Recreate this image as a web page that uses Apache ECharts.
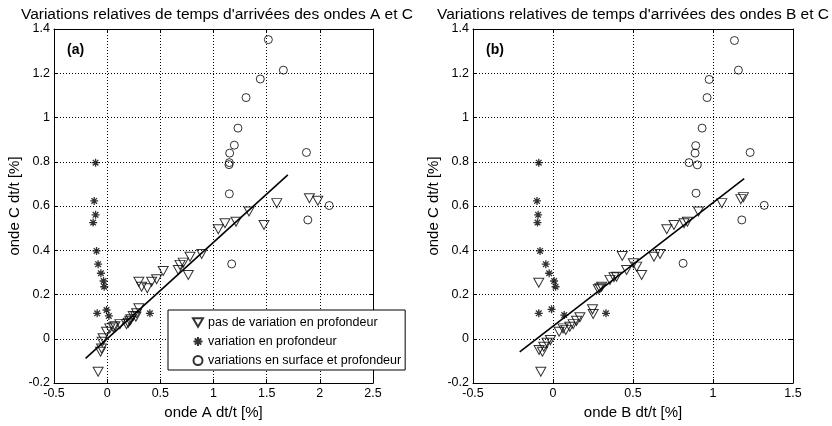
<!DOCTYPE html>
<html>
<head>
<meta charset="utf-8">
<script src="https://cdn.jsdelivr.net/npm/echarts@6/dist/echarts.min.js"></script>
<style>html,body{margin:0;padding:0;background:#fff}#c{width:832px;height:426px}</style>
</head>
<body>
<div id="c"></div>
<script>
// ---- Data ----
var titleA = "Variations relatives de temps d'arrivées des ondes A et C";
var titleB = "Variations relatives de temps d'arrivées des ondes B et C";
var xNameA = "onde A dt/t [%]";
var xNameB = "onde B dt/t [%]";
var yName = "onde C dt/t [%]";
var legendNames = ["pas de variation en profondeur", "variation en profondeur", "variations en surface et profondeur"];

// Panel (a): x = onde A, y = onde C
var triA = [[-0.085,-0.149],[-0.062,-0.059],[-0.053,-0.044],[-0.047,-0.014],[-0.038,0.002],[-0.006,0.032],[0.025,0.047],[0.057,0.052],[0.073,0.057],[0.12,0.066],[0.182,0.066],[0.198,0.072],[0.213,0.081],[0.223,0.088],[0.245,0.103],[0.27,0.1],[0.277,0.115],[0.298,0.138],[0.298,0.258],[0.324,0.235],[0.377,0.228],[0.418,0.258],[0.465,0.269],[0.527,0.306],[0.669,0.311],[0.685,0.334],[0.716,0.344],[0.763,0.288],[0.779,0.371],[0.889,0.383],[1.045,0.495],[1.108,0.522],[1.212,0.529],[1.334,0.575],[1.475,0.514],[1.595,0.613],[1.902,0.635],[1.981,0.624]];
var starA = [[-0.109,0.796],[-0.122,0.623],[-0.109,0.56],[-0.132,0.525],[-0.1,0.397],[-0.085,0.337],[-0.059,0.296],[-0.034,0.261],[-0.028,0.235],[-0.094,0.115],[-0.006,0.13],[0.016,0.103],[0.402,0.115]];
var circA = [[1.516,1.352],[1.657,1.214],[1.44,1.174],[1.306,1.09],[1.23,0.952],[1.196,0.875],[1.152,0.839],[1.149,0.796],[1.146,0.787],[1.874,0.842],[1.149,0.655],[2.088,0.602],[1.887,0.537],[1.171,0.338]];
var fitA = [[-0.203,-0.089],[1.699,0.741]];

// Panel (b): x = onde B, y = onde C
var triB = [[-0.076,-0.149],[-0.087,-0.051],[-0.066,-0.059],[-0.058,-0.036],[-0.037,-0.018],[-0.016,-0.006],[-0.089,0.253],[0.038,0.032],[0.063,0.047],[0.08,0.04],[0.105,0.054],[0.126,0.066],[0.147,0.081],[0.168,0.097],[0.247,0.133],[0.251,0.112],[0.283,0.224],[0.293,0.228],[0.304,0.235],[0.356,0.266],[0.381,0.278],[0.397,0.28],[0.433,0.374],[0.46,0.311],[0.502,0.341],[0.523,0.326],[0.554,0.288],[0.631,0.371],[0.669,0.383],[0.711,0.495],[0.756,0.514],[0.819,0.522],[0.84,0.529],[0.909,0.575],[1.055,0.613],[1.174,0.631],[1.19,0.64]];
var starB = [[-0.089,0.796],[-0.1,0.623],[-0.093,0.56],[-0.097,0.525],[-0.081,0.397],[-0.045,0.337],[-0.024,0.296],[0.007,0.261],[0.016,0.235],[-0.089,0.115],[-0.009,0.133],[0.07,0.107],[0.331,0.115]];
var circB = [[1.134,1.348],[1.159,1.214],[0.976,1.172],[0.963,1.09],[0.932,0.952],[0.892,0.873],[0.888,0.839],[0.85,0.796],[0.902,0.786],[1.232,0.842],[0.894,0.658],[1.32,0.603],[1.18,0.537],[0.813,0.341]];
var fitB = [[-0.208,-0.059],[1.195,0.724]];

var yMin = -0.2, yMax = 1.4, yStep = 0.2;
var xMinA = -0.5, xMaxA = 2.5, xMinB = -0.5, xMaxB = 1.5, xStep = 0.5;

// ---- Chart ----
var FONT = 'Liberation Sans, Arial, sans-serif';
var TRI = 'path://M0,0L20,0L10,17Z';
var STAR = 'path://M10,0L10,20M0,10L20,10M3,3L17,17M3,17L17,3';

function fmt(v){ return String(Math.round(v*100)/100); }

function xAx(g, min, max, name){
  return [{
    type:'value', gridIndex:g, min:min, max:max, interval:xStep, position:'bottom',
    name:name, nameLocation:'middle', nameGap:22,
    nameTextStyle:{color:'#000', fontSize:15, fontFamily:FONT},
    axisLine:{show:true, onZero:false, lineStyle:{color:'#000', width:1}},
    axisTick:{show:true, inside:true, length:4, lineStyle:{color:'#000'}},
    axisLabel:{color:'#000', fontSize:12.5, fontFamily:FONT, margin:4, formatter:fmt},
    splitLine:{show:true, lineStyle:{color:'#000', width:1, type:[1,2]}}
  },{
    type:'value', gridIndex:g, min:min, max:max, interval:xStep, position:'top',
    axisLine:{show:true, onZero:false, lineStyle:{color:'#000', width:1}},
    axisTick:{show:true, inside:true, length:4, lineStyle:{color:'#000'}},
    axisLabel:{show:false}, splitLine:{show:false}
  }];
}
function yAx(g){
  return [{
    type:'value', gridIndex:g, min:yMin, max:yMax, interval:yStep, position:'left',
    name:yName, nameLocation:'middle', nameGap:32, nameRotate:90,
    nameTextStyle:{color:'#000', fontSize:15, fontFamily:FONT},
    axisLine:{show:true, onZero:false, lineStyle:{color:'#000', width:1}},
    axisTick:{show:true, inside:true, length:4, lineStyle:{color:'#000'}},
    axisLabel:{color:'#000', fontSize:12.5, fontFamily:FONT, margin:4, formatter:fmt},
    splitLine:{show:true, lineStyle:{color:'#000', width:1, type:[1,2]}}
  },{
    type:'value', gridIndex:g, min:yMin, max:yMax, interval:yStep, position:'right',
    axisLine:{show:true, onZero:false, lineStyle:{color:'#000', width:1}},
    axisTick:{show:true, inside:true, length:4, lineStyle:{color:'#000'}},
    axisLabel:{show:false}, splitLine:{show:false}
  }];
}

function scat(name, data, xi, yi, symbol, size, bw){
  return {
    type:'scatter', name:name, xAxisIndex:xi, yAxisIndex:yi, data:data,
    symbol:symbol, symbolSize:size, z:3,
    itemStyle:{color:'rgba(0,0,0,0)', borderColor:'#000', borderWidth:bw},
    emphasis:{disabled:true}
  };
}
function fit(data, xi, yi){
  return {
    type:'line', xAxisIndex:xi, yAxisIndex:yi, data:data, symbol:'none', z:4,
    lineStyle:{color:'#000', width:1.6}, silent:true
  };
}

var chart = echarts.init(document.getElementById('c'), null, {renderer:'canvas'});
chart.setOption({
  animation:false,
  backgroundColor:'#fff',
  textStyle:{fontFamily:FONT},
  title:[
    {text:titleA, left:212, top:2, textAlign:'center', textStyle:{fontSize:15.5, fontWeight:'normal', color:'#000', fontFamily:FONT}},
    {text:titleB, left:628, top:2, textAlign:'center', textStyle:{fontSize:15.5, fontWeight:'normal', color:'#000', fontFamily:FONT}},
    {text:'(a)', left:62, top:38, textStyle:{fontSize:14, fontWeight:'bold', color:'#000', fontFamily:FONT}},
    {text:'(b)', left:481, top:38, textStyle:{fontSize:14, fontWeight:'bold', color:'#000', fontFamily:FONT}}
  ],
  grid:[
    {left:54, top:29, width:319, height:354, show:true, borderColor:'#000', borderWidth:0, backgroundColor:'#fff'},
    {left:473, top:29, width:320, height:354, show:true, borderColor:'#000', borderWidth:0, backgroundColor:'#fff'}
  ],
  xAxis: xAx(0, xMinA, xMaxA, xNameA).concat(xAx(1, xMinB, xMaxB, xNameB)),
  yAxis: yAx(0).concat(yAx(1)),
  legend:{
    data:legendNames, orient:'vertical', left:168, top:310, selectedMode:false,
    borderColor:'#000', borderWidth:1, backgroundColor:'#fff',
    padding:[6,4,3,24], itemWidth:10, itemHeight:9, itemGap:6, itemTextGap:20,
    textStyle:{fontSize:12.5, lineHeight:13, color:'#000', fontFamily:FONT}, z:10
  },
  series:[
    scat(legendNames[0], triA, 0, 0, TRI, [10,9], 1),
    scat(legendNames[1], starA, 0, 0, STAR, 8, 1.3),
    scat(legendNames[2], circA, 0, 0, 'circle', 8, 1),
    fit(fitA, 0, 0),
    scat(legendNames[0], triB, 2, 2, TRI, [10,9], 1),
    scat(legendNames[1], starB, 2, 2, STAR, 8, 1.3),
    scat(legendNames[2], circB, 2, 2, 'circle', 8, 1),
    fit(fitB, 2, 2)
  ]
});
</script>
</body>
</html>
